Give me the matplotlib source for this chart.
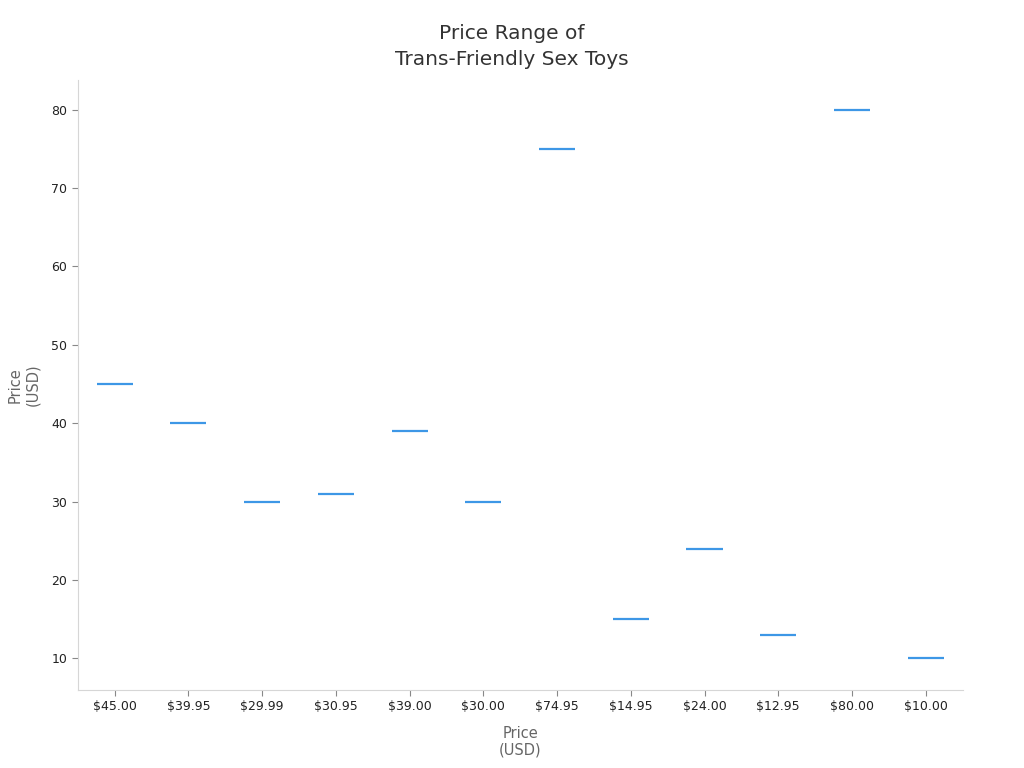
import numpy as np
import matplotlib.pyplot as plt

# Data
labels = ['$45.00', '$39.95', '$29.99', '$30.95', '$39.00', '$30.00',
          '$74.95', '$14.95', '$24.00', '$12.95', '$80.00', '$10.00']
prices = [45, 40, 30, 31, 39, 30, 75, 15, 24, 13, 80, 10]

fig = plt.figure(figsize=(10.24, 7.68), dpi=100)
ax = fig.add_axes([0.076, 0.102, 0.864, 0.794])

xs = np.arange(len(labels))
ax.hlines(prices, xs - 0.245, xs + 0.245, color='#3d97e6', linewidth=1.6)

ax.set_xlim(-0.5, len(labels) - 0.5)
ax.set_ylim(6.0, 83.8)
ax.set_xticks(xs)
ax.set_xticklabels(labels)
ax.set_yticks([10, 20, 30, 40, 50, 60, 70, 80])

for s in ['top', 'right']:
    ax.spines[s].set_visible(False)
for s in ['left', 'bottom']:
    ax.spines[s].set_color('#d6d6d6')
ax.tick_params(colors='#222222', labelsize=9, length=4)
ax.tick_params(axis='both', color='#888888')

ax.set_xlabel('Price\n(USD)', color='#666666', fontsize=10.5, labelpad=9)
ax.set_ylabel('Price\n(USD)', color='#666666', fontsize=10.5, labelpad=8)
fig.text(0.5, 1 - 46.5 / 768, 'Price Range of\nTrans-Friendly Sex Toys',
         ha='center', va='center', color='#333333', fontsize=14.5,
         linespacing=1.45)

fig.savefig('out.png', dpi=100)
